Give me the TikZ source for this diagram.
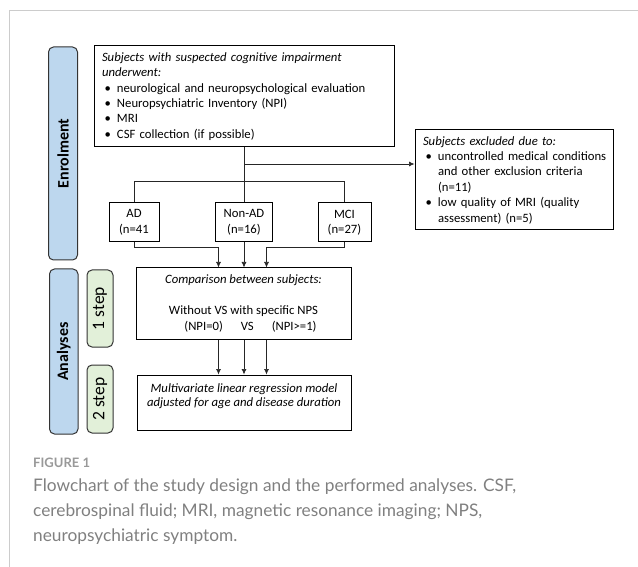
\documentclass[tikz,border=0pt]{standalone}
\usepackage{fontspec}
\setmainfont{Carlito}
\newfontfamily\capfont{Lato}
\usetikzlibrary{arrows.meta}
\definecolor{tabblue}{HTML}{BDD7EE}
\definecolor{tabgreen}{HTML}{E2F0D9}
\definecolor{capgrey}{HTML}{808080}
\definecolor{figgrey}{HTML}{999999}
\definecolor{framegrey}{HTML}{CCCCCC}
\newcommand\bl{\makebox[15pt][l]{\hspace{2.5pt}\textbullet}}
\newcommand\bi{\hspace*{15pt}}
\begin{document}
\begin{tikzpicture}[x=1pt,y=-1pt,
  box/.style={draw=black, line width=1pt, inner sep=0pt, font=\fontsize{12.7}{15.4}\selectfont},
  tab/.style={draw=black!80, line width=1pt, rounded corners=5pt, inner sep=0pt},
  conn/.style={draw=black!85, line width=0.7pt},
  arr/.style={conn, -{Latex[length=5.5pt,width=5pt]}}
]
\useasboundingbox (0,0) rectangle (638,567);
% frame
\draw[framegrey, line width=1pt] (9,567) -- (9,11) -- (638,11);
% side tabs
\node[tab, fill=tabblue, rotate=90, minimum width=213, minimum height=29,
      font=\bfseries\fontsize{16}{16}\selectfont] (enrol) at (63,153.5) {Enrolment};
\node[tab, fill=tabblue, rotate=90, minimum width=165, minimum height=28.5,
      font=\bfseries\fontsize{16}{16}\selectfont] (anal) at (63.75,351.5) {Analyses};
\node[tab, fill=tabgreen, rotate=90, minimum width=77, minimum height=26,
      font=\fontsize{17.5}{17.5}\selectfont] (step1) at (100,308.5) {1 step};
\node[tab, fill=tabgreen, rotate=90, minimum width=68, minimum height=26,
      font=\fontsize{17.5}{17.5}\selectfont] (step2) at (100,399) {2 step};
% main box
\node[box, minimum width=300, minimum height=101, text width=284, align=left] (main) at (244,96.5)
 {\textit{Subjects with suspected cognitive impairment}\\
  \textit{underwent:}\\
  \bl \mbox{neurological and neuropsychological evaluation}\\
  \bl Neuropsychiatric Inventory (NPI)\\
  \bl MRI\\
  \bl CSF collection (if possible)};
% exclusion box
\node[box, minimum width=198, minimum height=100, text width=182, align=left] (excl) at (514,180)
 {\textit{Subjects excluded due to:}\\
  \bl \mbox{uncontrolled medical conditions}\\
  \bi \mbox{and other exclusion criteria}\\
  \bi (n=11)\\
  \bl \mbox{low quality of MRI (quality}\\
  \bi \mbox{assessment) (n=5)}};
% groups
\node[box, minimum width=50, minimum height=39, align=center] (AD) at (134,222.5) {AD\\(n=41};
\node[box, minimum width=57, minimum height=39, align=center] (NonAD) at (244,222.5) {Non-AD\\(n=16)};
\node[box, minimum width=53, minimum height=39, align=center] (MCI) at (344.5,222.5) {MCI\\(n=27)};
% comparison
\node[box, minimum width=215, minimum height=71, align=center] (comp) at (243.5,303.5)
 {\textit{Comparison between subjects:}\\[15.4pt]
  Without VS with specific NPS\\
  \hspace*{14pt}(NPI=0)\hspace{18pt}VS\hspace{18pt}(NPI>=1)};
% regression
\node[box, minimum width=214, minimum height=55, align=center,
      font=\itshape\fontsize{12.7}{14}\selectfont] (reg) at (244,402.5)
 {Multivariate linear regression model\\adjusted for age and disease duration\\\mbox{}};
% connectors
\coordinate (jx) at (244,164);
\coordinate (c1) at ([xshift=83pt]comp.north west);
\coordinate (c3) at ([xshift=131pt]comp.north west);
\draw[conn] (main.south) -- (NonAD.north);
\draw[arr] (jx) -- (jx -| excl.west);
\draw[conn] (AD.north) -- ++(0,-21) -| (MCI.north);
\draw[arr] (AD.south) -- ++(0,5) -| (c1);
\draw[arr] (NonAD.south) -- (NonAD.south |- comp.north);
\draw[arr] (MCI.south) -- ++(0,5) -| (c3);
\draw[arr] (comp.south -| c1) -- (reg.north -| c1);
\draw[arr] (comp.south -| NonAD.south) -- (reg.north -| NonAD.south);
\draw[arr] (comp.south -| c3) -- (reg.north -| c3);
% caption
\node[anchor=west, inner sep=0pt, text=figgrey, font=\capfont\bfseries\fontsize{13}{13}\selectfont] (fig) at (33,463) {FIGURE 1};
\node[anchor=north west, inner sep=0pt, align=left, text=capgrey, font=\capfont\fontsize{17.3}{25}\selectfont] (cap) at (33,479)
 {Flowchart of the study design and the performed analyses. CSF,\\
  cerebrospinal fluid; MRI, magnetic resonance imaging; NPS,\\
  neuropsychiatric symptom.};
\end{tikzpicture}
\end{document}
